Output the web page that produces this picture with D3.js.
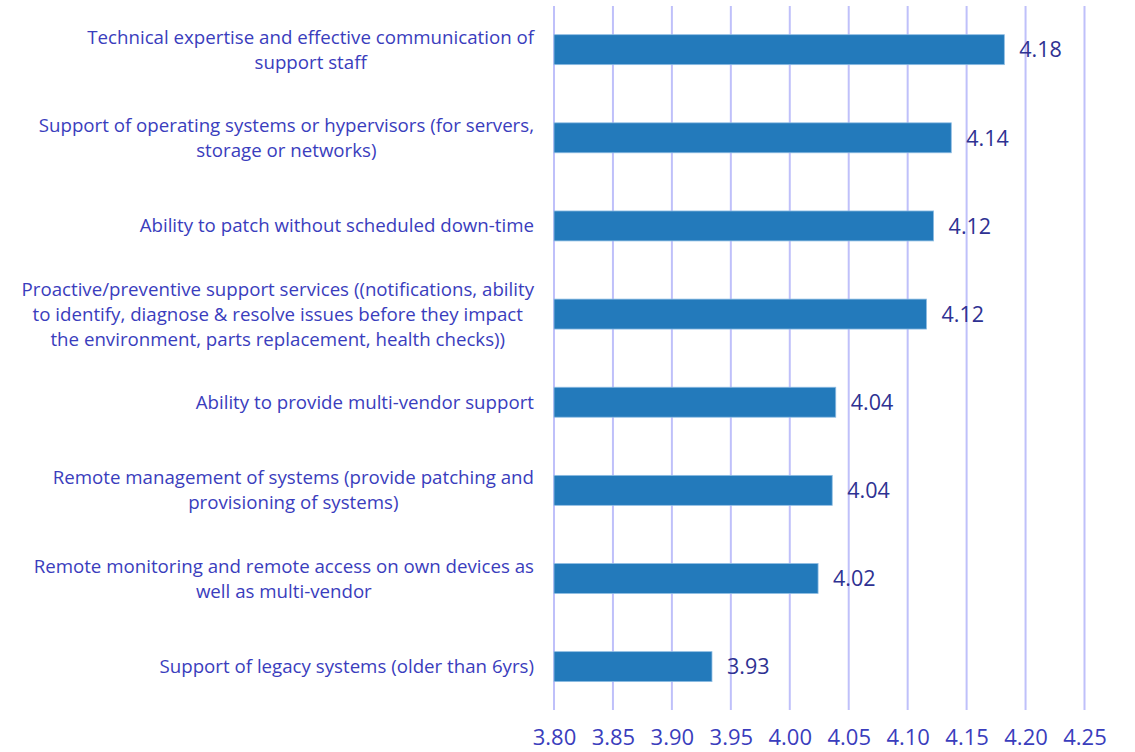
<!DOCTYPE html>
<html>
<head>
<meta charset="utf-8">
<script src="https://cdn.jsdelivr.net/npm/d3@7"></script>
<style>
  html, body { margin: 0; padding: 0; background: #ffffff; }
  svg { display: block; font-family: "Open Sans", "Noto Sans", sans-serif; }
</style>
</head>
<body>
<svg id="chart" width="1135" height="752"></svg>
<script>
// Mean importance rating per support capability (wrapped label lines per category)
const categories = [
  ["Technical expertise and effective communication of", "support staff"],
  ["Support of operating systems or hypervisors (for servers,", "storage or networks)"],
  ["Ability to patch without scheduled down-time"],
  ["Proactive/preventive support services ((notifications, ability", "to identify, diagnose & resolve issues before they impact", "the environment, parts replacement, health checks))"],
  ["Ability to provide multi-vendor support"],
  ["Remote management of systems (provide patching and", "provisioning of systems)"],
  ["Remote monitoring and remote access on own devices as", "well as multi-vendor"],
  ["Support of legacy systems (older than 6yrs)"]
];
const scores = [4.182, 4.137, 4.122, 4.116, 4.039, 4.036, 4.024, 3.934];
const tickValues = [3.80, 3.85, 3.90, 3.95, 4.00, 4.05, 4.10, 4.15, 4.20, 4.25];

const svg = d3.select("#chart");

const x = d3.scaleLinear().domain([3.80, 4.25]).range([554, 1084.5]);
const y = d3.scaleBand()
  .domain(d3.range(categories.length))
  .range([5.6, 710.7])
  .paddingInner(0.66)
  .paddingOuter(0.33);

const labelColor = "#3a3dbd";
const valueColor = "#2e3192";
const fmt = d3.format(".2f");

// vertical gridlines at each tick
svg.append("g")
  .selectAll("line")
  .data(tickValues)
  .join("line")
  .attr("x1", d => x(d)).attr("x2", d => x(d))
  .attr("y1", 6).attr("y2", 710)
  .attr("stroke", "#bfc0fa")
  .attr("stroke-width", 2);

// bottom tick labels via axis generator
const axis = svg.append("g")
  .attr("transform", "translate(0,729)")
  .call(d3.axisBottom(x).tickValues(tickValues).tickFormat(fmt).tickSize(0).tickPadding(0));
axis.select(".domain").remove();
axis.selectAll("text")
  .attr("y", 0)
  .attr("dy", "0.71em")
  .attr("fill", labelColor)
  .style("font-size", "22px")
  .style("font-family", "'Open Sans', 'Noto Sans', sans-serif");

// bars
svg.append("g")
  .selectAll("rect")
  .data(scores)
  .join("rect")
  .attr("x", x(3.80))
  .attr("y", (d, i) => y(i))
  .attr("width", d => x(d) - x(3.80))
  .attr("height", y.bandwidth())
  .attr("fill", "#237abb")
  .attr("stroke", "#8fbde3")
  .attr("stroke-width", 0.8);

// value labels
svg.append("g")
  .selectAll("text")
  .data(scores)
  .join("text")
  .attr("x", d => x(d) + 15)
  .attr("y", (d, i) => y(i) + y.bandwidth() / 2)
  .attr("dy", "0.36em")
  .attr("fill", valueColor)
  .style("font-size", "21.5px")
  .text(d => fmt(d));

// category labels: each block right-aligned, lines centred within it
const lineH = 25;
const labelRight = 534;
const groups = svg.append("g")
  .selectAll("text")
  .data(categories)
  .join("text")
  .attr("fill", labelColor)
  .style("font-size", "18.7px");

groups.each(function(lines, i) {
  const t = d3.select(this);
  const cy = y(i) + y.bandwidth() / 2;
  const top = cy - (lines.length - 1) * lineH / 2;
  lines.forEach((ln, k) => {
    t.append("tspan")
      .attr("y", top + k * lineH)
      .attr("dy", "0.35em")
      .text(ln);
  });
  const widths = [];
  t.selectAll("tspan").each(function() { widths.push(this.getComputedTextLength()); });
  const blockW = d3.max(widths);
  const mid = labelRight - blockW / 2;
  t.attr("text-anchor", "middle");
  t.selectAll("tspan").attr("x", mid);
});
</script>
</body>
</html>
